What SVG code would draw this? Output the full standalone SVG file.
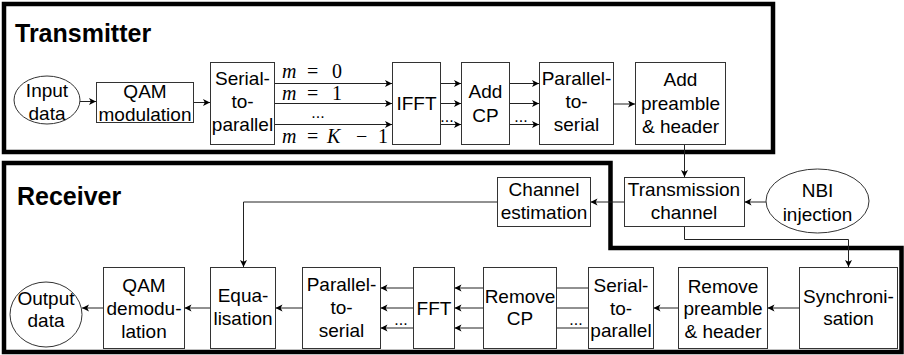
<svg xmlns="http://www.w3.org/2000/svg" width="904" height="355" viewBox="0 0 904 355">
<style>
.box{fill:#fff;stroke:#333;stroke-width:1}
.frame{fill:none;stroke:#000;stroke-width:4.5}
.t{font-family:"Liberation Sans",Arial,sans-serif;font-size:19px;fill:#000;text-anchor:middle}
.h{font-family:"Liberation Sans",Arial,sans-serif;font-size:25px;font-weight:bold;fill:#000}
.m{font-family:"Liberation Serif","Times New Roman",serif;font-size:20px;fill:#000}
.mi{font-style:italic}
.d{font-family:"Liberation Sans",Arial,sans-serif;font-size:16px;fill:#000;text-anchor:middle}
.c{fill:none;stroke:#222;stroke-width:1}
.a{marker-end:url(#ah)}
</style>
<defs>
<marker id="ah" markerUnits="userSpaceOnUse" markerWidth="8" markerHeight="8" refX="7" refY="3.5" orient="auto">
<path d="M0,0 L7,3.5 L0,7 L1.8,3.5 z" fill="#000"/>
</marker>
</defs>
<rect width="904" height="355" fill="#fff"/>
<g id="frames">
<rect class="frame" x="4" y="4" width="769" height="148"/>
<path class="frame" d="M4,163 H610.5 V248 H901.5 V352 H4 Z"/>
<text class="h" x="15" y="42">Transmitter</text>
<text class="h" x="17" y="205">Receiver</text>
</g>
<g id="connectors">
<path class="c a" d="M80,101.5 H96"/>
<path class="c a" d="M194,102.5 H210"/>
<path class="c a" d="M274.5,83.5 H392"/>
<path class="c a" d="M274.5,103.5 H392"/>
<path class="c a" d="M274.5,124.5 H392"/>
<path class="c a" d="M440.5,83.5 H461"/>
<path class="c a" d="M440.5,103.5 H461"/>
<path class="c a" d="M440.5,124.5 H461"/>
<path class="c a" d="M509.5,83.5 H539"/>
<path class="c a" d="M509.5,103.5 H539"/>
<path class="c a" d="M509.5,124.5 H539"/>
<path class="c a" d="M613.5,104 H635"/>
<path class="c a" d="M684.5,144.5 V177"/>
<path class="c a" d="M766,202 H744.5"/>
<path class="c a" d="M624.5,202 H590.5"/>
<path class="c a" d="M497.5,202 H243.5 V267"/>
<path class="c a" d="M684.5,226.5 V239.5 H848.5 V267"/>
<path class="c a" d="M799.5,308 H767.5"/>
<path class="c a" d="M678.5,308 H653.5"/>
<path class="c" d="M588.5,288 H556.5"/>
<path class="c" d="M588.5,308 H556.5"/>
<path class="c" d="M588.5,328 H556.5"/>
<path class="c a" d="M483.5,288 H454.5"/>
<path class="c a" d="M483.5,308 H454.5"/>
<path class="c a" d="M483.5,328 H454.5"/>
<path class="c a" d="M413.5,288 H380.5"/>
<path class="c a" d="M413.5,308 H380.5"/>
<path class="c a" d="M413.5,328 H380.5"/>
<path class="c a" d="M302.5,308 H275.5"/>
<path class="c a" d="M210.5,308 H184.5"/>
<path class="c a" d="M103.5,308 H82"/>
<text class="m" y="78"><tspan class="mi" x="282">m</tspan><tspan x="307">=</tspan><tspan x="332">0</tspan></text>
<text class="m" y="100"><tspan class="mi" x="282">m</tspan><tspan x="307">=</tspan><tspan x="332">1</tspan></text>
<text class="d" x="318" y="118">...</text>
<text class="m" y="143"><tspan class="mi" x="282">m</tspan><tspan x="307">=</tspan><tspan class="mi" x="327">K</tspan><tspan x="356">−</tspan><tspan x="378">1</tspan></text>
<text class="d" x="447" y="122">...</text>
<text class="d" x="521" y="122">...</text>
<text class="d" x="401" y="325">...</text>
<text class="d" x="576" y="325">...</text>
</g>
<g id="input-data"><ellipse class="box" cx="47" cy="100" rx="33" ry="24"/><text class="t" x="47" y="97">Input</text><text class="t" x="47" y="120">data</text></g>
<g id="qam-mod"><rect class="box" x="96.5" y="82.5" width="97" height="40"/><text class="t" x="145" y="98">QAM</text><text class="t" x="145" y="121">modulation</text></g>
<g id="tx-s2p"><rect class="box" x="210.5" y="62.5" width="64" height="82"/><text class="t" x="242.5" y="85">Serial-</text><text class="t" x="242.5" y="108">to-</text><text class="t" x="242.5" y="131">parallel</text></g>
<g id="ifft"><rect class="box" x="392.5" y="62.5" width="48" height="82"/><text class="t" x="416.5" y="110">IFFT</text></g>
<g id="add-cp"><rect class="box" x="461.5" y="62.5" width="48" height="82"/><text class="t" x="485.5" y="98">Add</text><text class="t" x="485.5" y="122">CP</text></g>
<g id="tx-p2s"><rect class="box" x="539.5" y="62.5" width="74" height="82"/><text class="t" x="576.5" y="85">Parallel-</text><text class="t" x="576.5" y="108">to-</text><text class="t" x="576.5" y="131">serial</text></g>
<g id="add-preamble"><rect class="box" x="635.5" y="62.5" width="90" height="82"/><text class="t" x="680.5" y="86">Add</text><text class="t" x="680.5" y="110">preamble</text><text class="t" x="680.5" y="133">&amp; header</text></g>
<g id="channel"><rect class="box" x="624.5" y="177.5" width="120" height="49"/><text class="t" x="684" y="196">Transmission</text><text class="t" x="684" y="219">channel</text></g>
<g id="chan-est"><rect class="box" x="497.5" y="177.5" width="93" height="49"/><text class="t" x="544" y="196">Channel</text><text class="t" x="544" y="219">estimation</text></g>
<g id="nbi"><ellipse class="box" cx="817.5" cy="201" rx="51.5" ry="32"/><text class="t" x="817.5" y="197">NBI</text><text class="t" x="817.5" y="221">injection</text></g>
<g id="output-data"><ellipse class="box" cx="46" cy="314.5" rx="36" ry="32.5"/><text class="t" x="46" y="305">Output</text><text class="t" x="46" y="327">data</text></g>
<g id="qam-demod"><rect class="box" x="103.5" y="267.5" width="81" height="81"/><text class="t" x="144" y="292">QAM</text><text class="t" x="144" y="315">demodu-</text><text class="t" x="144" y="338">lation</text></g>
<g id="equalisation"><rect class="box" x="210.5" y="267.5" width="65" height="81"/><text class="t" x="243" y="302">Equa-</text><text class="t" x="243" y="325">lisation</text></g>
<g id="rx-p2s"><rect class="box" x="302.5" y="267.5" width="78" height="81"/><text class="t" x="341.5" y="291">Parallel-</text><text class="t" x="341.5" y="314">to-</text><text class="t" x="341.5" y="337">serial</text></g>
<g id="fft"><rect class="box" x="413.5" y="267.5" width="41" height="81"/><text class="t" x="434" y="315">FFT</text></g>
<g id="remove-cp"><rect class="box" x="483.5" y="267.5" width="73" height="81"/><text class="t" x="520" y="303">Remove</text><text class="t" x="520" y="325">CP</text></g>
<g id="rx-s2p"><rect class="box" x="588.5" y="267.5" width="65" height="81"/><text class="t" x="621" y="292">Serial-</text><text class="t" x="621" y="315">to-</text><text class="t" x="621" y="337">parallel</text></g>
<g id="remove-preamble"><rect class="box" x="678.5" y="267.5" width="89" height="81"/><text class="t" x="723" y="293">Remove</text><text class="t" x="723" y="315">preamble</text><text class="t" x="723" y="338">&amp; header</text></g>
<g id="sync"><rect class="box" x="799.5" y="267.5" width="98" height="81"/><text class="t" x="848.5" y="303">Synchroni-</text><text class="t" x="848.5" y="325">sation</text></g>
</svg>
